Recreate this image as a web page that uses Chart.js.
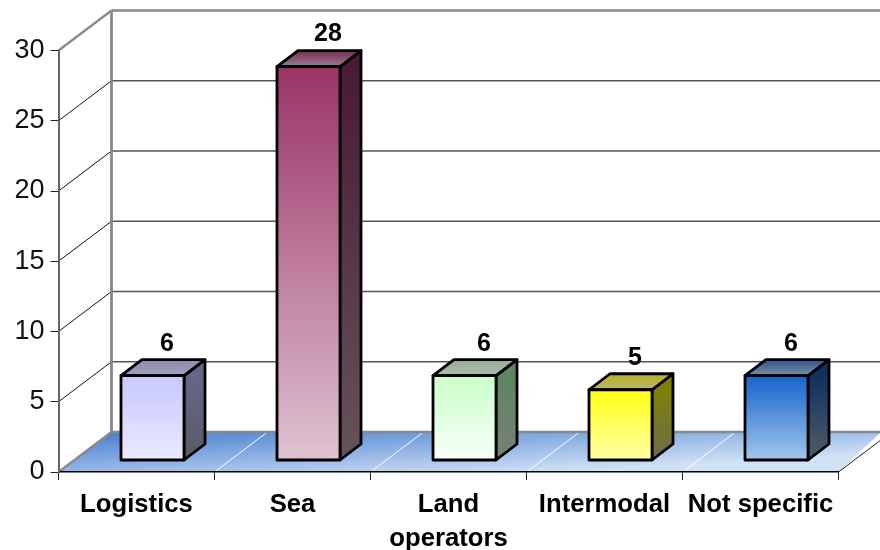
<!DOCTYPE html>
<html>
<head>
<meta charset="utf-8">
<title>Chart</title>
<script src="https://cdn.jsdelivr.net/npm/chart.js@4/dist/chart.umd.min.js"></script>
<style>
  html, body { margin: 0; padding: 0; background: #fff; }
  canvas { display: block; }
</style>
</head>
<body>
<canvas id="chart" width="880" height="550"></canvas>
<script>
const categories = ['Logistics', 'Sea', ['Land', 'operators'], 'Intermodal', 'Not specific'];
const counts = [6, 28, 6, 5, 6];

// colours of each box, one entry per category
const frontTop = ['#c8c8ff', '#993366', '#c8ffc8', '#ffff14', '#1464cc'];
const frontBottom = ['#e9e9ff', '#e0c2d2', '#f9fff9', '#ffffa8', '#a2c6ec'];
const sideTop = ['#666688', '#4a1a35', '#5f8560', '#808008', '#12305f'];
const sideBottom = ['#5a5a62', '#65535b', '#787f78', '#6c6c50', '#505e6a'];
const roofBack = ['#8a8ab0', '#7a2a55', '#94b094', '#b8b020', '#2f5488'];
const roofFront = ['#a2a2b8', '#988090', '#b0bab0', '#b8b870', '#7c90a8'];
const labelShift = [0, 5, 5, 0, 0];

// 3D look: back wall offset, box offset from the axis plane, box depth
const WALL = { dx: 53, dy: -40 };
const BOX = { dx: 16, dy: -12 };
const DEPTH = { dx: 21, dy: -16 };
const OUTLINE = 2.8;

function line(ctx, pts, color, width) {
    ctx.beginPath();
    pts.forEach((p, i) => (i ? ctx.lineTo(p[0], p[1]) : ctx.moveTo(p[0], p[1])));
    ctx.strokeStyle = color;
    ctx.lineWidth = width;
    ctx.stroke();
}

function face(ctx, pts, fill) {
    ctx.beginPath();
    pts.forEach((p, i) => (i ? ctx.lineTo(p[0], p[1]) : ctx.moveTo(p[0], p[1])));
    ctx.closePath();
    ctx.fillStyle = fill;
    ctx.fill();
    ctx.strokeStyle = '#000';
    ctx.lineWidth = OUTLINE;
    ctx.lineJoin = 'round';
    ctx.stroke();
}

const box3d = {
    id: 'box3d',
    beforeDraw(chart) {
        const { ctx, scales: { x, y }, chartArea: area } = chart;
        const y0 = y.getPixelForValue(0);
        const backX = area.left + WALL.dx;
        const backY = y0 + WALL.dy;
        const endX = chart.width;

        ctx.save();
        const floor = ctx.createLinearGradient(111, 432, 114.6, 496.7);
        floor.addColorStop(0, '#4a80d0');
        floor.addColorStop(1, '#d0e1f6');
        ctx.beginPath();
        ctx.moveTo(area.left, y0);
        ctx.lineTo(backX, backY);
        ctx.lineTo(endX + 1, backY);
        ctx.lineTo(area.right, y0);
        ctx.closePath();
        ctx.fillStyle = floor;
        ctx.fill();

        // white dividers on the floor
        for (let i = 1; i < categories.length; i++) {
            const tx = x.getPixelForTick(i) - x.width / categories.length / 2;
            line(ctx, [[tx, y0], [tx + WALL.dx, backY]], '#fff', 1);
        }
        line(ctx, [[area.right, y0], [area.right + WALL.dx, backY]], '#222', 1);

        y.ticks.forEach(t => {
            const py = y.getPixelForValue(t.value);
            const edge = t.value === 0 || t.value === 30;
            line(ctx, [[backX, py + WALL.dy], [endX, py + WALL.dy]], edge ? '#888' : '#555', edge ? 2.5 : 1.5);
            line(ctx, [[area.left, py], [backX, py + WALL.dy]], edge ? '#888' : '#111', edge ? 2.2 : 1);
        });
        line(ctx, [[backX, area.top + WALL.dy], [backX, backY]], '#888', 2.8);
        ctx.restore();
    },
    beforeDatasetDraw(chart) {
        const { ctx, scales: { y } } = chart;
        ctx.save();
        ctx.translate(BOX.dx, BOX.dy);
        chart.getDatasetMeta(0).data.forEach((bar, i) => {
            const half = bar.width / 2;
            const l = bar.x - half, r = bar.x + half, t = bar.y, b = y.getPixelForValue(0);
            const side = ctx.createLinearGradient(0, t, 0, b);
            side.addColorStop(0, sideTop[i]);
            side.addColorStop(1, sideBottom[i]);
            face(ctx, [[r, t], [r + DEPTH.dx, t + DEPTH.dy], [r + DEPTH.dx, b + DEPTH.dy], [r, b]], side);
            const roof = ctx.createLinearGradient(0, t + DEPTH.dy, 0, t);
            roof.addColorStop(0, roofBack[i]);
            roof.addColorStop(1, roofFront[i]);
            face(ctx, [[l, t], [l + DEPTH.dx, t + DEPTH.dy], [r + DEPTH.dx, t + DEPTH.dy], [r, t]], roof);
        });
    },
    afterDatasetDraw(chart) {
        const { ctx, scales: { y } } = chart;
        chart.getDatasetMeta(0).data.forEach(bar => {
            const half = bar.width / 2;
            const t = bar.y, b = y.getPixelForValue(0);
            ctx.strokeStyle = '#000';
            ctx.lineWidth = OUTLINE;
            ctx.lineJoin = 'round';
            ctx.strokeRect(bar.x - half, t, bar.width, b - t);
        });
        ctx.restore();
    },
    afterDatasetsDraw(chart) {
        const { ctx } = chart;
        ctx.save();
        ctx.font = 'bold 25px "Liberation Sans"';
        ctx.fillStyle = '#000';
        ctx.textAlign = 'center';
        ctx.textBaseline = 'middle';
        chart.getDatasetMeta(0).data.forEach((bar, i) => {
            ctx.fillText(counts[i], bar.x + BOX.dx + 14.5 + labelShift[i], bar.y + BOX.dy - 32);
        });
        ctx.restore();
    }
};

new Chart(document.getElementById('chart'), {
    type: 'bar',
    data: {
        labels: categories,
        datasets: [{
            data: counts,
            clip: false,
            borderWidth: 0,
            barPercentage: 63 / 156,
            categoryPercentage: 1,
            backgroundColor: (c) => {
                const area = c.chart.chartArea;
                const y = c.chart.scales.y;
                if (!area || !y || c.dataIndex === undefined) return '#ccc';
                const top = y.getPixelForValue(counts[c.dataIndex]);
                const base = y.getPixelForValue(0);
                if (!Number.isFinite(top) || !Number.isFinite(base)) return frontTop[c.dataIndex];
                const g = c.chart.ctx.createLinearGradient(0, top, 0, base);
                g.addColorStop(0, frontTop[c.dataIndex]);
                g.addColorStop(1, frontBottom[c.dataIndex]);
                return g;
            }
        }]
    },
    plugins: [box3d],
    options: {
        responsive: false,
        animation: false,
        layout: { padding: { top: 50.5, right: 41.5, left: 0, bottom: 0 } },
        plugins: { legend: { display: false }, tooltip: { enabled: false } },
        scales: {
            x: {
                afterFit: (s) => { s.height = 78; },
                grid: { drawOnChartArea: false, drawTicks: true, tickLength: 8, color: '#222', lineWidth: 1 },
                border: { color: '#000', width: 1.5 },
                ticks: {
                    autoSkip: false,
                    maxRotation: 0,
                    minRotation: 0,
                    padding: 8,
                    color: '#000',
                    font: { family: '"Liberation Sans"', size: 25.7, weight: 'bold', lineHeight: 1.32 }
                }
            },
            y: {
                min: 0,
                max: 30,
                afterFit: (s) => { s.width = 58.5; },
                grid: { drawOnChartArea: false, drawTicks: true, tickLength: 8, color: '#222', lineWidth: 1 },
                border: { color: '#666', width: 2 },
                ticks: {
                    stepSize: 5,
                    padding: 6,
                    color: '#111',
                    font: { family: '"Liberation Sans"', size: 27 }
                }
            }
        }
    }
});
</script>
</body>
</html>
